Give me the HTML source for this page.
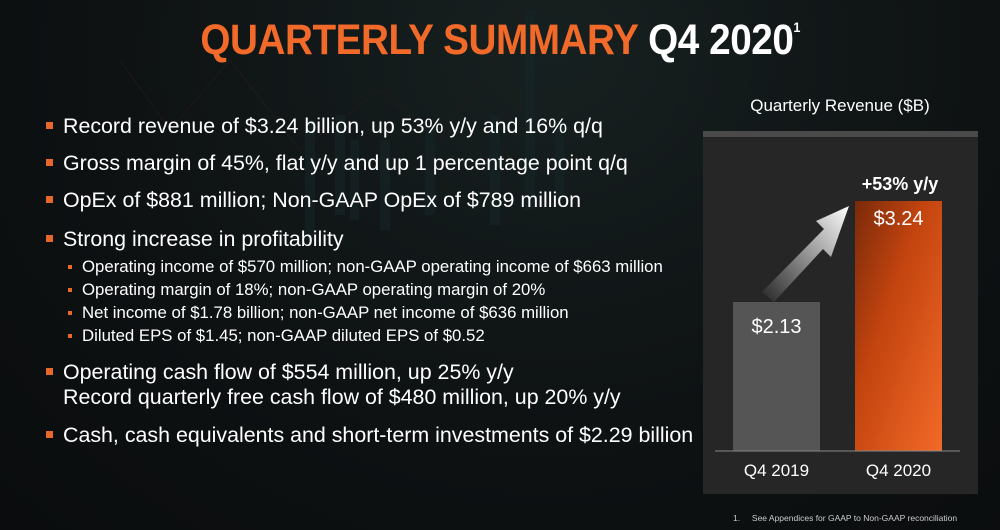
<!DOCTYPE html>
<html><head><style>
body{margin:0;width:1000px;height:530px;overflow:hidden;background:#0d1011;font-family:"Liberation Sans",sans-serif;}
.bg{position:absolute;left:0;top:0;width:1000px;height:530px;background:radial-gradient(ellipse at 55% 10%,#172020 0%,#0e1213 55%,#0a0c0d 100%);}
.t{position:absolute;color:#fff;white-space:nowrap;}
.b{font-size:21.4px;left:63px;}
.b:before{content:"";position:absolute;left:-17px;top:8px;width:7px;height:7px;background:#e8682a;}
.s{font-size:16.8px;left:82px;}
.s:before{content:"";position:absolute;left:-14px;top:8px;width:4px;height:4px;background:#e8682a;}
</style></head><body>
<div class="bg"></div>
<svg style="position:absolute;left:0;top:0" width="1000" height="530">
<g fill="#15272a" opacity="0.5">
<rect x="305" y="120" width="10" height="120"/><rect x="335" y="115" width="10" height="100"/><rect x="350" y="140" width="9" height="80"/><rect x="380" y="140" width="10" height="90"/><rect x="425" y="125" width="10" height="90"/><rect x="490" y="115" width="10" height="110"/><rect x="525" y="10" width="10" height="200"/><rect x="555" y="120" width="9" height="80"/>
</g>
<polyline points="120,60 170,130 230,60 300,150 380,90 440,140 520,20" fill="none" stroke="#2a1c1a" stroke-width="1.2" opacity="0.5"/>
</svg>
<div class="t" style="left:0;width:1000px;top:16px;text-align:center;font-weight:bold;font-size:43px;letter-spacing:-0.5px"><span style="display:inline-block;transform:scaleX(0.9)"><span style="color:#f26a2a">QUARTERLY SUMMARY</span> Q4 2020<sup style="font-size:14px;vertical-align:22px">1</sup></span></div>

<div class="t b" style="top:114px">Record revenue of $3.24 billion, up 53% y/y and 16% q/q</div>
<div class="t b" style="top:151px">Gross margin of 45%, flat y/y and up 1 percentage point q/q</div>
<div class="t b" style="top:188px">OpEx of $881 million; Non-GAAP OpEx of $789 million</div>
<div class="t b" style="top:227px">Strong increase in profitability</div>
<div class="t s" style="top:257px">Operating income of $570 million; non-GAAP operating income of $663 million</div>
<div class="t s" style="top:280px">Operating margin of 18%; non-GAAP operating margin of 20%</div>
<div class="t s" style="top:303px">Net income of $1.78 billion; non-GAAP net income of $636 million</div>
<div class="t s" style="top:326px">Diluted EPS of $1.45; non-GAAP diluted EPS of $0.52</div>
<div class="t b" style="top:360px">Operating cash flow of $554 million, up 25% y/y</div>
<div class="t" style="top:385px;left:63px;font-size:21.4px">Record quarterly free cash flow of $480 million, up 20% y/y</div>
<div class="t b" style="top:423px">Cash, cash equivalents and short-term investments of $2.29 billion</div>

<div class="t" style="left:703px;width:274px;text-align:center;top:96px;font-size:17px">Quarterly Revenue ($B)</div>
<svg style="position:absolute;left:0;top:0" width="1000" height="530">
<defs>
<linearGradient id="og" x1="0" y1="0" x2="1" y2="1"><stop offset="0" stop-color="#7a2a0a"/><stop offset="0.4" stop-color="#c3440f"/><stop offset="1" stop-color="#f36a28"/></linearGradient>
<linearGradient id="ag" x1="0" y1="1" x2="1" y2="0"><stop offset="0" stop-color="#fff" stop-opacity="0"/><stop offset="1" stop-color="#fff"/></linearGradient>
</defs>
<rect x="703" y="131" width="275" height="363" fill="#262626"/>
<rect x="703" y="131" width="275" height="6" fill="#4a4a4a"/>
<rect x="733" y="302" width="87" height="149" fill="#555"/>
<rect x="855" y="201" width="87" height="250" fill="url(#og)"/>
<line x1="715" y1="451" x2="960" y2="451" stroke="#888" stroke-width="1"/>
<polygon points="762,292 774,302 823,249 831,257 849,206 816,221 824,229" fill="url(#ag)"/>
</svg>
<div class="t" style="left:733px;width:87px;text-align:center;top:316px;font-size:20px">$2.13</div>
<div class="t" style="left:855px;width:87px;text-align:center;top:208px;font-size:20px">$3.24</div>
<div class="t" style="left:835px;width:130px;text-align:center;top:174px;font-size:18px;font-weight:bold">+53% y/y</div>
<div class="t" style="left:733px;width:87px;text-align:center;top:461px;font-size:17px">Q4 2019</div>
<div class="t" style="left:855px;width:87px;text-align:center;top:461px;font-size:17px">Q4 2020</div>
<div class="t" style="left:733px;top:513px;font-size:8.5px;color:#ccc">1.&nbsp;&nbsp;&nbsp;&nbsp;&nbsp;See Appendices for GAAP to Non-GAAP reconciliation</div>
</body></html>
